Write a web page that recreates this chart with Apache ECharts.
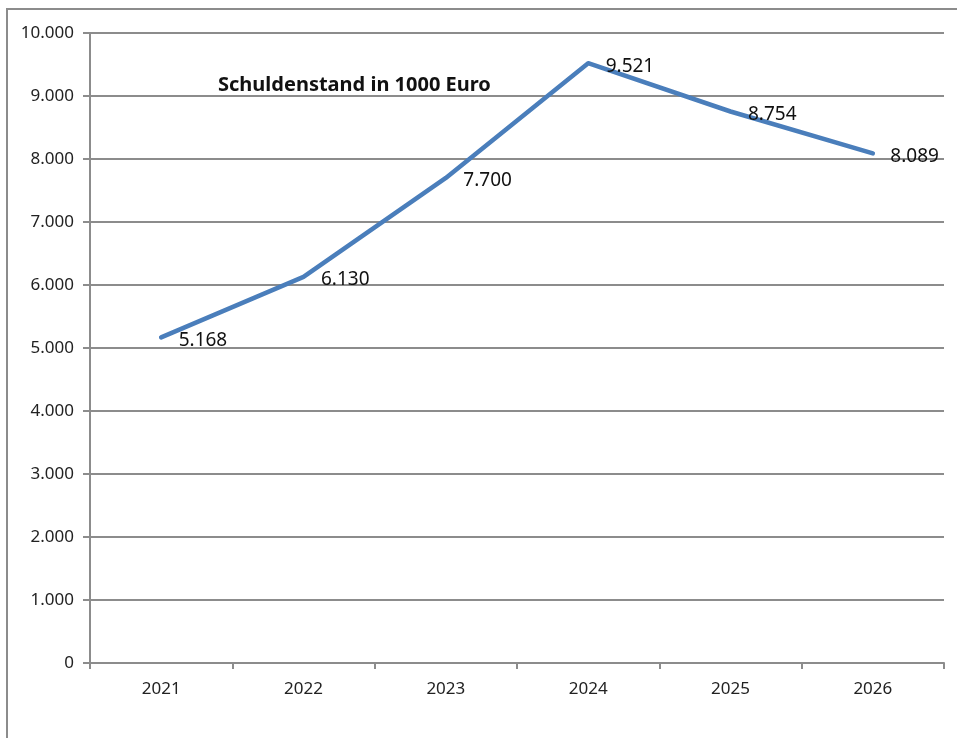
<!DOCTYPE html>
<html>
<head>
<meta charset="utf-8">
<script src="https://cdn.jsdelivr.net/npm/echarts@6/dist/echarts.min.js"></script>
<style>
  html, body { margin: 0; padding: 0; background: #fff; }
  #chart { width: 957px; height: 738px; }
</style>
</head>
<body>
<div id="chart"></div>
<script>
const years = ['2021', '2022', '2023', '2024', '2025', '2026'];
const debt = [5168, 6130, 7700, 9521, 8754, 8089];
const chartTitle = 'Schuldenstand in 1000 Euro';

// Tausenderpunkt wie im Original
function fmt(v) {
  return String(v).replace(/\B(?=(\d{3})+(?!\d))/g, '.');
}

const chart = echarts.init(document.getElementById('chart'));
const font = '"Noto Sans", "Open Sans", sans-serif';
const axisGray = '#8c8c8c';
const lineBlue = '#4a7ebb';

chart.setOption({
  animation: false,
  title: {
    text: chartTitle,
    left: 213,
    top: 70,
    textStyle: { fontFamily: font, fontSize: 20, fontWeight: 'bold', color: '#111' }
  },
  graphic: [{
    type: 'rect',
    shape: { x: 7, y: 9, width: 980, height: 760 },
    style: { fill: 'none', stroke: axisGray, lineWidth: 2 },
    silent: true
  }],
  grid: { left: 90, right: 13, top: 33, bottom: 75 },
  xAxis: {
    type: 'category',
    data: years,
    boundaryGap: true,
    axisLine: { lineStyle: { color: axisGray, width: 2 } },
    axisTick: { show: true, length: 6, lineStyle: { color: axisGray, width: 2 } },
    axisLabel: { fontFamily: font, fontSize: 17, color: '#222', margin: 18 }
  },
  yAxis: {
    type: 'value',
    min: 0,
    max: 10000,
    interval: 1000,
    axisLine: { show: true, lineStyle: { color: axisGray, width: 2 } },
    axisTick: { show: true, length: 7, lineStyle: { color: axisGray, width: 2 } },
    splitLine: { lineStyle: { color: axisGray, width: 2 } },
    axisLabel: { fontFamily: font, fontSize: 17, color: '#222', margin: 16, formatter: fmt }
  },
  series: [{
    type: 'line',
    data: debt,
    smooth: false,
    symbol: 'circle',
    symbolSize: 3,
    showSymbol: true,
    itemStyle: { color: lineBlue },
    lineStyle: { color: lineBlue, width: 4.5, join: 'round', cap: 'round' },
    label: {
      show: true,
      position: 'right',
      distance: 16,
      offset: [0, 3],
      fontFamily: font,
      fontSize: 19,
      color: '#111',
      formatter: p => fmt(p.value)
    }
  }]
});
</script>
</body>
</html>
